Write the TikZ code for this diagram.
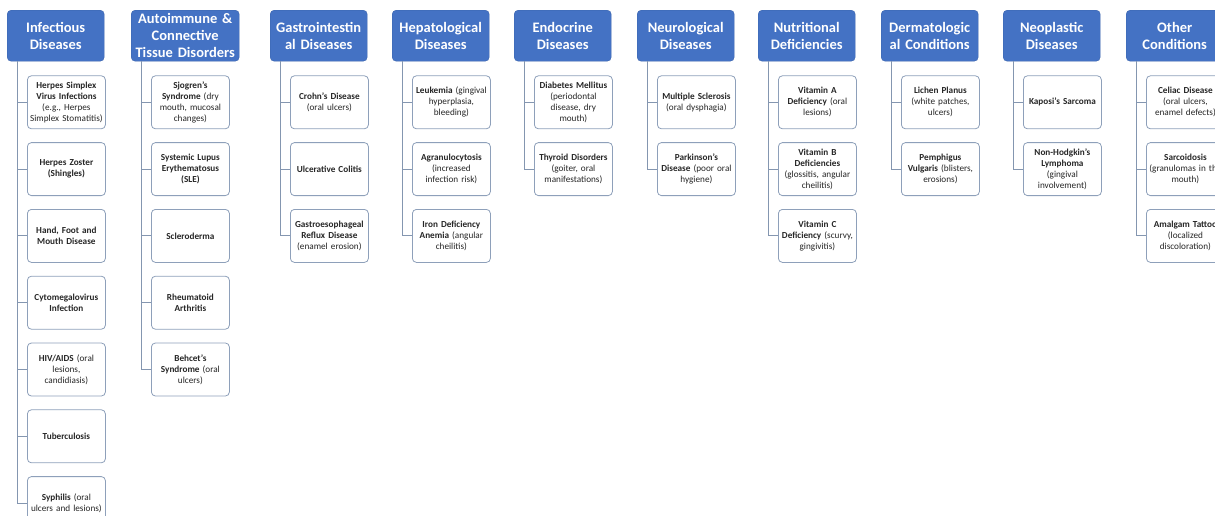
\documentclass[tikz,border=0pt]{standalone}
\usepackage{fontspec}
\setmainfont{Carlito}
\usepackage{xcolor}
\usepackage{tikz}
\usetikzlibrary{positioning}
\definecolor{headblue}{HTML}{4472C4}
\definecolor{headedge}{HTML}{3B64AD}
\definecolor{boxedge}{HTML}{8EA0BA}
\definecolor{linkgray}{HTML}{8496B0}
\tikzstyle{group} = [rectangle, rounded corners=4pt, anchor=north west, minimum width=97pt, minimum height=51pt, text width=95pt, inner sep=0pt, align=center, draw=headedge, fill=headblue, text=white, font=\fontsize{14.5}{17}\selectfont\bfseries]
\tikzstyle{item} = [rectangle, rounded corners=4pt, minimum width=78pt, minimum height=53pt, text width=77pt, inner sep=0.5pt, align=center, draw=boxedge, line width=0.8pt, fill=white, text=black!85, font=\fontsize{9.2}{11}\selectfont]
\tikzstyle{link} = [draw=linkgray, line width=1pt]

\begin{document}
\begin{tikzpicture}[x=1pt, y=1pt, node distance=13pt]
    \clip (0,0) rectangle (1215,-515);

    % category headers
    \node (inf) [group] at (7,-10) {Infectious\\Diseases};
    \node (aut) [group, minimum width=108pt, text width=107pt] at (131,-10) {Autoimmune \&\\Connective\\Tissue Disorders};
    \node (gas) [group] at (270,-10) {Gastrointestin\\al Diseases};
    \node (hep) [group] at (392,-10) {Hepatological\\Diseases};
    \node (end) [group] at (514,-10) {Endocrine\\Diseases};
    \node (neu) [group] at (637,-10) {Neurological\\Diseases};
    \node (nut) [group] at (758,-10) {Nutritional\\Deficiencies};
    \node (der) [group] at (881,-10) {Dermatologic\\al Conditions};
    \node (neo) [group] at (1003,-10) {Neoplastic\\Diseases};
    \node (oth) [group] at (1126,-10) {Other\\Conditions};

    % infectious
    \node (inf1) [item, below right=14pt and 20pt of inf.south west] {\textbf{Herpes Simplex}\\\textbf{Virus Infections}\\(e.g., Herpes\\Simplex Stomatitis)};
    \node (inf2) [item, below=of inf1] {\textbf{Herpes Zoster}\\\textbf{(Shingles)}};
    \node (inf3) [item, below=of inf2] {\textbf{Hand, Foot and}\\\textbf{Mouth Disease}};
    \node (inf4) [item, below=of inf3] {\textbf{Cytomegalovirus}\\\textbf{Infection}};
    \node (inf5) [item, below=of inf4] {\textbf{HIV/AIDS} (oral\\lesions,\\candidiasis)};
    \node (inf6) [item, below=of inf5] {\textbf{Tuberculosis}};
    \node (inf7) [item, below=of inf6] {\textbf{Syphilis} (oral\\ulcers and lesions)};

    % autoimmune
    \node (aut1) [item, below right=14pt and 20pt of aut.south west] {\textbf{Sjogren's}\\\textbf{Syndrome} (dry\\mouth, mucosal\\changes)};
    \node (aut2) [item, below=of aut1] {\textbf{Systemic Lupus}\\\textbf{Erythematosus}\\\textbf{(SLE)}};
    \node (aut3) [item, below=of aut2] {\textbf{Scleroderma}};
    \node (aut4) [item, below=of aut3] {\textbf{Rheumatoid}\\\textbf{Arthritis}};
    \node (aut5) [item, below=of aut4] {\textbf{Behcet's}\\\textbf{Syndrome} (oral\\ulcers)};

    % gastrointestinal
    \node (gas1) [item, below right=14pt and 20pt of gas.south west] {\textbf{Crohn's Disease}\\(oral ulcers)};
    \node (gas2) [item, below=of gas1] {\textbf{Ulcerative Colitis}};
    \node (gas3) [item, below=of gas2] {\textbf{Gastroesophageal}\\\textbf{Reflux Disease}\\(enamel erosion)};

    % hepatological
    \node (hep1) [item, below right=14pt and 20pt of hep.south west] {\textbf{Leukemia} (gingival\\hyperplasia,\\bleeding)};
    \node (hep2) [item, below=of hep1] {\textbf{Agranulocytosis}\\(increased\\infection risk)};
    \node (hep3) [item, below=of hep2] {\textbf{Iron Deficiency}\\\textbf{Anemia} (angular\\cheilitis)};

    % endocrine
    \node (end1) [item, below right=14pt and 20pt of end.south west] {\textbf{Diabetes Mellitus}\\(periodontal\\disease, dry\\mouth)};
    \node (end2) [item, below=of end1] {\textbf{Thyroid Disorders}\\(goiter, oral\\manifestations)};

    % neurological
    \node (neu1) [item, below right=14pt and 20pt of neu.south west] {\textbf{Multiple Sclerosis}\\(oral dysphagia)};
    \node (neu2) [item, below=of neu1] {\textbf{Parkinson's}\\\textbf{Disease} (poor oral\\hygiene)};

    % nutritional
    \node (nut1) [item, below right=14pt and 20pt of nut.south west] {\textbf{Vitamin A}\\\textbf{Deficiency} (oral\\lesions)};
    \node (nut2) [item, below=of nut1] {\textbf{Vitamin B}\\\textbf{Deficiencies}\\(glossitis, angular\\cheilitis)};
    \node (nut3) [item, below=of nut2] {\textbf{Vitamin C}\\\textbf{Deficiency} (scurvy,\\gingivitis)};

    % dermatological
    \node (der1) [item, below right=14pt and 20pt of der.south west] {\textbf{Lichen Planus}\\(white patches,\\ulcers)};
    \node (der2) [item, below=of der1] {\textbf{Pemphigus}\\\textbf{Vulgaris} (blisters,\\erosions)};

    % neoplastic
    \node (neo1) [item, below right=14pt and 20pt of neo.south west] {\textbf{Kaposi's Sarcoma}};
    \node (neo2) [item, below=of neo1] {\textbf{Non-Hodgkin's}\\\textbf{Lymphoma}\\(gingival\\involvement)};

    % other
    \node (oth1) [item, below right=14pt and 20pt of oth.south west] {\textbf{Celiac Disease}\\(oral ulcers,\\enamel defects)};
    \node (oth2) [item, below=of oth1] {\textbf{Sarcoidosis}\\(granulomas in the\\mouth)};
    \node (oth3) [item, below=of oth2] {\textbf{Amalgam Tattoo}\\(localized\\discoloration)};

    % connectors
    \draw [link] ([xshift=10pt]inf.south west) |- (inf1.west);
    \draw [link] ([xshift=10pt]inf.south west) |- (inf2.west);
    \draw [link] ([xshift=10pt]inf.south west) |- (inf3.west);
    \draw [link] ([xshift=10pt]inf.south west) |- (inf4.west);
    \draw [link] ([xshift=10pt]inf.south west) |- (inf5.west);
    \draw [link] ([xshift=10pt]inf.south west) |- (inf6.west);
    \draw [link] ([xshift=10pt]inf.south west) |- (inf7.west);

    \draw [link] ([xshift=10pt]aut.south west) |- (aut1.west);
    \draw [link] ([xshift=10pt]aut.south west) |- (aut2.west);
    \draw [link] ([xshift=10pt]aut.south west) |- (aut3.west);
    \draw [link] ([xshift=10pt]aut.south west) |- (aut4.west);
    \draw [link] ([xshift=10pt]aut.south west) |- (aut5.west);

    \draw [link] ([xshift=10pt]gas.south west) |- (gas1.west);
    \draw [link] ([xshift=10pt]gas.south west) |- (gas2.west);
    \draw [link] ([xshift=10pt]gas.south west) |- (gas3.west);

    \draw [link] ([xshift=10pt]hep.south west) |- (hep1.west);
    \draw [link] ([xshift=10pt]hep.south west) |- (hep2.west);
    \draw [link] ([xshift=10pt]hep.south west) |- (hep3.west);

    \draw [link] ([xshift=10pt]end.south west) |- (end1.west);
    \draw [link] ([xshift=10pt]end.south west) |- (end2.west);

    \draw [link] ([xshift=10pt]neu.south west) |- (neu1.west);
    \draw [link] ([xshift=10pt]neu.south west) |- (neu2.west);

    \draw [link] ([xshift=10pt]nut.south west) |- (nut1.west);
    \draw [link] ([xshift=10pt]nut.south west) |- (nut2.west);
    \draw [link] ([xshift=10pt]nut.south west) |- (nut3.west);

    \draw [link] ([xshift=10pt]der.south west) |- (der1.west);
    \draw [link] ([xshift=10pt]der.south west) |- (der2.west);

    \draw [link] ([xshift=10pt]neo.south west) |- (neo1.west);
    \draw [link] ([xshift=10pt]neo.south west) |- (neo2.west);

    \draw [link] ([xshift=10pt]oth.south west) |- (oth1.west);
    \draw [link] ([xshift=10pt]oth.south west) |- (oth2.west);
    \draw [link] ([xshift=10pt]oth.south west) |- (oth3.west);
\end{tikzpicture}
\end{document}
